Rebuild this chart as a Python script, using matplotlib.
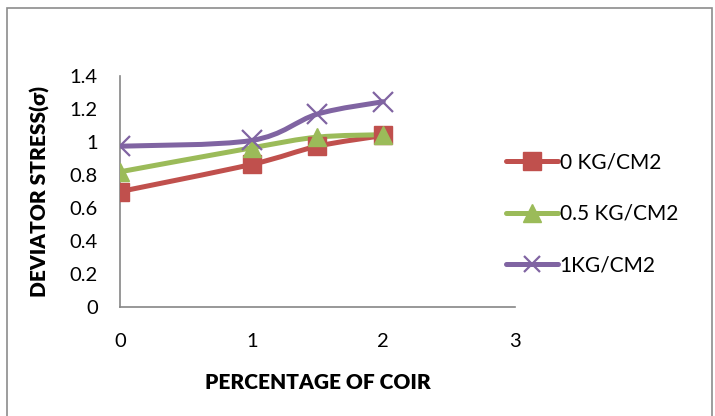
import matplotlib.pyplot as plt
from matplotlib.path import Path
from matplotlib.patches import PathPatch, Rectangle
import numpy as np

# percentage of coir vs deviator stress for each confining pressure
coir = [0, 1, 1.5, 2]
stress_0 = [0.70, 0.865, 0.975, 1.04]
stress_05 = [0.82, 0.965, 1.03, 1.045]
stress_1 = [0.975, 1.01, 1.17, 1.245]

labels = ["0 KG/CM2", "0.5 KG/CM2", "1KG/CM2"]
colors = ["#C0504D", "#9BBB59", "#8064A2"]
markers = ["s", "^", "x"]

plt.rcParams['font.family'] = ['Lato', 'DejaVu Sans']


def smooth_path(x, y, t=1 / 6):
    # catmull-rom style bezier through the points (excel "smoothed line")
    x = np.asarray(x, float)
    y = np.asarray(y, float)
    verts = [(x[0], y[0])]
    codes = [Path.MOVETO]
    n = len(x)
    for i in range(n - 1):
        p0 = i - 1 if i > 0 else i
        p3 = i + 2 if i + 2 < n else i + 1
        c1 = (x[i] + (x[i + 1] - x[p0]) * t, y[i] + (y[i + 1] - y[p0]) * t)
        c2 = (x[i + 1] - (x[p3] - x[i]) * t, y[i + 1] - (y[p3] - y[i]) * t)
        verts += [c1, c2, (x[i + 1], y[i + 1])]
        codes += [Path.CURVE4] * 3
    return Path(verts, codes)


fig = plt.figure(figsize=(7.15, 4.16), dpi=100)
ax = fig.add_axes([0.168, 0.262, 0.552, 0.555])

for ys, lab, c, m in zip([stress_0, stress_05, stress_1], labels, colors, markers):
    ax.add_patch(PathPatch(smooth_path(coir, ys), fill=False, edgecolor=c,
                           lw=3.6, capstyle='round', joinstyle='round', zorder=2))
    if m == "x":
        ax.plot(coir, ys, ls='none', marker=m, ms=14, mew=1.6, color=c, zorder=3)
    else:
        ax.plot(coir, ys, ls='none', marker=m, ms=13, color=c, zorder=3)
    # legend handle: line with marker
    ax.plot([], [], color=c, lw=3.6, marker=m, ms=13 if m != "x" else 12,
            mew=1.6 if m == "x" else 1, solid_capstyle='round', label=lab)

ax.set_xlim(0, 3)
ax.set_ylim(0, 1.4)
ax.set_xticks([0, 1, 2, 3])
ax.set_yticks(np.arange(0, 1.41, 0.2))
ax.set_yticklabels(["0", "0.2", "0.4", "0.6", "0.8", "1", "1.2", "1.4"])
ax.tick_params(length=0, labelsize=14.5)
ax.tick_params(axis='y', pad=16)
ax.tick_params(axis='x', pad=19)
for s in ["top", "right"]:
    ax.spines[s].set_visible(False)
for s in ["left", "bottom"]:
    ax.spines[s].set_color("#868686")
    ax.spines[s].set_linewidth(1.2)

ax.set_xlabel("PERCENTAGE OF COIR", fontsize=15, fontweight='heavy', labelpad=16)
ax.set_ylabel("DEVIATOR STRESS(σ)", fontsize=15, fontweight='heavy', labelpad=14)

fig.legend(loc='center left', bbox_to_anchor=(0.682, 0.486), frameon=False,
           fontsize=15, handlelength=2.5, labelspacing=1.5, handletextpad=0.05)

# chart area border
fig.patches.append(Rectangle((0.010, -0.02), 0.986, 1.0, transform=fig.transFigure,
                             fill=False, edgecolor="#8C8C8C", lw=1.2))

fig.savefig("out.png", dpi=100)
